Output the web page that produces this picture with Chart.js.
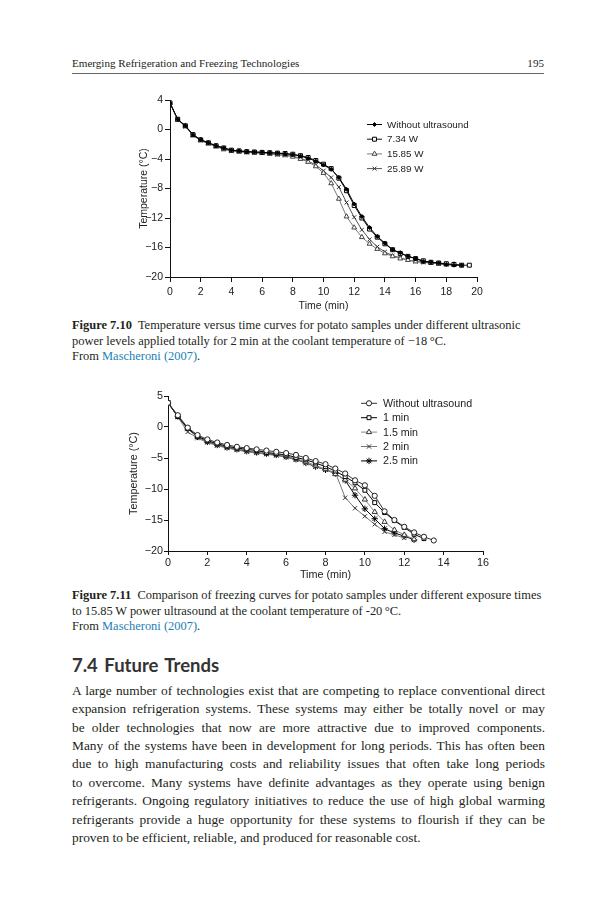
<!DOCTYPE html>
<html>
<head>
<meta charset="utf-8">
<script src="https://cdn.jsdelivr.net/npm/chart.js@4.4.1/dist/chart.umd.min.js"></script>
<style>
html, body { margin: 0; padding: 0; background: #fff; }
#page { position: relative; width: 600px; height: 900px; overflow: hidden;
        font-family: "Liberation Serif", "Times New Roman", serif; color: #231f20; }
.abs { position: absolute; }
#hdr { left: 72px; top: 56px; width: 472px; font-size: 11.1px; line-height: 14px; }
#hdr .r { float: right; }
#rule { left: 72px; top: 73px; width: 472px; height: 0; border-top: 1px solid #666; }
.cap { left: 72px; width: 500px; font-size: 12.45px; line-height: 15.3px; white-space: nowrap; }
.cap a { color: #1c7fb6; text-decoration: none; }
#h74 { left: 72px; top: 653px; font-family: Lato, "Open Sans", sans-serif;
       font-weight: bold; font-size: 18.5px; line-height: 24px; color: #333; word-spacing: 2px; }
#body { left: 72px; top: 681.8px; width: 473px; font-size: 13.4px; line-height: 18.4px; }
#body div { text-align: justify; text-align-last: justify; }
#body div.last { text-align-last: left; }
#c1 { left: 138px; top: 88px; width: 362px; height: 229px; }
#c2 { left: 128px; top: 384px; width: 375px; height: 200px; }
</style>
</head>
<body>
<div id="page">
  <div id="hdr" class="abs">Emerging Refrigeration and Freezing Technologies<span class="r">195</span></div>
  <div id="rule" class="abs"></div>

  <div id="c1" class="abs"><canvas id="chart1"></canvas></div>

  <div class="abs cap" style="top:318.3px">
    <div><b>Figure 7.10</b>&nbsp; Temperature versus time curves for potato samples under different ultrasonic</div>
    <div>power levels applied totally for 2&#8201;min at the coolant temperature of &minus;18&#8201;&deg;C.</div>
    <div>From <a>Mascheroni (2007)</a>.</div>
  </div>

  <div id="c2" class="abs"><canvas id="chart2"></canvas></div>

  <div class="abs cap" style="top:588.3px">
    <div><b>Figure 7.11</b>&nbsp; Comparison of freezing curves for potato samples under different exposure times</div>
    <div>to 15.85&#8201;W power ultrasound at the coolant temperature of -20&#8201;&deg;C.</div>
    <div>From <a>Mascheroni (2007)</a>.</div>
  </div>

  <div id="h74" class="abs">7.4 Future Trends</div>

  <div id="body" class="abs">
    <div>A large number of technologies exist that are competing to replace conventional direct</div>
    <div>expansion refrigeration systems. These systems may either be totally novel or may</div>
    <div>be older technologies that now are more attractive due to improved components.</div>
    <div>Many of the systems have been in development for long periods. This has often been</div>
    <div>due to high manufacturing costs and reliability issues that often take long periods</div>
    <div>to overcome. Many systems have definite advantages as they operate using benign</div>
    <div>refrigerants. Ongoing regulatory initiatives to reduce the use of high global warming</div>
    <div>refrigerants provide a huge opportunity for these systems to flourish if they can be</div>
    <div class="last">proven to be efficient, reliable, and produced for reasonable cost.</div>
  </div>
</div>

<script>
// ---- Figure 7.10 data (time in min, temperature in °C) ----
const time1 = [0, 0.5, 1, 1.5, 2, 2.5, 3, 3.5, 4, 4.5, 5, 5.5, 6, 6.5, 7, 7.5, 8, 8.5, 9, 9.5,
               10, 10.5, 11, 11.5, 12, 12.5, 13, 13.5, 14, 14.5, 15, 15.5, 16, 16.5, 17, 17.5, 18, 18.5, 19, 19.5];
const labels1 = ['Without ultrasound', '7.34 W', '15.85 W', '25.89 W'];
const noUS1 = [3.6, 1.4, 0.5, -0.7, -1.4, -1.8, -2.2, -2.5, -2.8, -2.9, -3.0, -3.05, -3.1, -3.15, -3.2, -3.3, -3.4, -3.6, -3.9, -4.3,
               -4.8, -5.4, -6.5, -8.1, -10.1, -11.8, -13.3, -14.5, -15.4, -16.3, -16.7, -17.2, -17.5, -17.9, -18.0, -18.1, -18.3, -18.4, -18.4];
const w734 = [3.6, 1.4, 0.5, -0.7, -1.4, -1.8, -2.2, -2.5, -2.8, -2.9, -3.0, -3.05, -3.1, -3.15, -3.2, -3.25, -3.35, -3.55, -3.8, -4.2,
              -4.7, -5.3, -6.6, -8.3, -10.3, -12.0, -13.5, -14.6, -15.5, -16.3, -16.8, -17.2, -17.5, -17.8, -18.0, -18.1, -18.2, -18.3, -18.4, -18.4];
const w1585 = [3.6, 1.3, 0.5, -0.8, -1.4, -1.9, -2.3, -2.7, -2.9, -3.0, -3.1, -3.15, -3.2, -3.3, -3.4, -3.5, -3.7, -4.0, -4.4, -5.0,
               -5.9, -7.3, -9.4, -11.8, -13.3, -14.6, -15.5, -16.2, -16.8, -17.2, -17.5, -17.7, -17.9, -18.0, -18.1, -18.2, -18.3, -18.3];
const w2589 = [3.6, 1.3, 0.4, -0.8, -1.5, -1.9, -2.3, -2.6, -2.9, -3.0, -3.1, -3.15, -3.2, -3.3, -3.4, -3.5, -3.6, -3.9, -4.3, -4.8,
               -5.6, -6.5, -7.8, -9.9, -11.9, -13.6, -14.9, -15.9, -16.6, -17.1, -17.4, -17.7, -17.9, -18.0, -18.1, -18.2, -18.3, -18.3, -18.4];

// ---- Figure 7.11 data ----
const time2 = [0, 0.5, 1, 1.5, 2, 2.5, 3, 3.5, 4, 4.5, 5, 5.5, 6, 6.5, 7, 7.5, 8, 8.5, 9, 9.5,
               10, 10.5, 11, 11.5, 12, 12.5, 13, 13.5];
const labels2 = ['Without ultrasound', '1 min', '1.5 min', '2 min', '2.5 min'];
const noUS2 = [3.9, 1.9, -0.1, -1.3, -2.0, -2.5, -2.9, -3.2, -3.4, -3.6, -3.8, -4.0, -4.2, -4.5, -5.0, -5.5, -6.0, -6.7, -7.5, -8.6,
               -9.4, -11.1, -13.6, -15.0, -16.1, -17.0, -17.7, -18.3];
const min1 = [3.9, 1.7, -0.2, -1.5, -2.2, -2.7, -3.1, -3.4, -3.6, -3.8, -4.1, -4.3, -4.5, -4.9, -5.3, -5.8, -6.4, -7.1, -8.0, -9.0,
              -10.2, -12.2, -13.8, -15.1, -16.2, -17.3, -18.0];
const min15 = [3.9, 1.7, -0.3, -1.6, -2.3, -2.8, -3.2, -3.5, -3.8, -4.0, -4.2, -4.4, -4.7, -5.1, -5.6, -6.2, -6.8, -7.6, -8.5, -9.9,
               -11.7, -13.7, -15.3, -16.6, -17.4, -18.1];
const min2 = [3.9, 1.6, -0.8, -1.8, -2.5, -3.0, -3.4, -3.7, -4.0, -4.2, -4.4, -4.6, -4.9, -5.3, -5.8, -6.4, -6.9, -7.3, -11.4, -13.1,
              -14.4, -15.7, -16.9, -17.4, -17.9];
const min25 = [3.9, 1.7, -0.3, -1.6, -2.4, -2.9, -3.3, -3.6, -3.9, -4.1, -4.3, -4.5, -4.8, -5.2, -5.8, -6.4, -6.9, -7.5, -8.6, -11.0,
               -13.2, -14.8, -16.4, -17.1, -17.6, -18.2];

Chart.defaults.font.family = '"Liberation Sans", Arial, sans-serif';
Chart.defaults.color = '#222';

const pts = (ts, vs) => vs.map((v, i) => ({ x: ts[i], y: v }));
const minus = v => String(v).replace('-', '\u2212');

// legend drawn inside the plot, like the original figure
const insideLegend = {
    id: 'insideLegend',
    afterDraw(chart, args, o) {
        const ctx = chart.ctx;
        ctx.save();
        chart.data.datasets.forEach((ds, i) => {
            const y = o.y + i * o.row;
            ctx.lineWidth = 1;
            ctx.strokeStyle = ds.borderColor;
            ctx.beginPath();
            ctx.moveTo(o.x, y);
            ctx.lineTo(o.x + o.len, y);
            ctx.stroke();
            ctx.fillStyle = ds.pointBackgroundColor;
            ctx.strokeStyle = ds.pointBorderColor;
            Chart.helpers.drawPoint(ctx, { pointStyle: ds.pointStyle, radius: ds.pointRadius, borderWidth: 1, rotation: 0 },
                o.x + o.len / 2, y);
            ctx.fillStyle = '#222';
            ctx.font = o.size + 'px "Liberation Sans", Arial, sans-serif';
            ctx.textBaseline = 'middle';
            ctx.fillText(ds.label, o.x + o.len + o.gap, y + 0.5);
        });
        ctx.restore();
    }
};

function series(label, data, line, style, radius, fill, border) {
    return {
        label: label, data: data, borderColor: line, borderWidth: 1, tension: 0,
        pointStyle: style, pointRadius: radius, pointBorderWidth: 1,
        pointBackgroundColor: fill, pointBorderColor: border
    };
}

function options(c) {
    return {
        responsive: true,
        maintainAspectRatio: false,
        animation: false,
        layout: { padding: { left: 0, top: 12, right: c.padRight, bottom: 0 } },
        plugins: { legend: { display: false }, tooltip: { enabled: false }, insideLegend: c.legend },
        scales: {
            x: {
                type: 'linear', min: 0, max: c.xMax,
                afterFit: s => { s.height = c.xHeight; },
                border: { color: '#111', width: 1 },
                grid: { drawOnChartArea: false, tickLength: c.xTick, color: '#111' },
                ticks: { stepSize: 2, padding: c.xPad, maxRotation: 0, autoSkip: false, font: { size: c.font } },
                title: { display: true, text: 'Time (min)', font: { size: c.font }, padding: { top: 0, bottom: c.titlePad } }
            },
            y: {
                min: -20, max: c.yMax,
                afterFit: s => { s.width = c.yWidth; },
                border: { color: '#111', width: 1 },
                grid: { drawOnChartArea: false, tickLength: c.yTick, color: '#111' },
                ticks: { stepSize: c.yStep, padding: c.yPad, font: { size: c.font }, callback: minus },
                title: { display: true, text: 'Temperature (\u00b0C)', font: { size: c.font }, padding: 0 }
            }
        }
    };
}

new Chart(document.getElementById('chart1'), {
    type: 'line',
    data: {
        datasets: [
            series(labels1[0], pts(time1, noUS1), '#000', 'rectRot', 2, '#000', '#000'),
            series(labels1[1], pts(time1, w734), '#111', 'rect', 2.8, '#fff', '#000'),
            series(labels1[2], pts(time1, w1585), '#7a7a7a', 'triangle', 2.8, '#fff', '#444'),
            series(labels1[3], pts(time1, w2589), '#555', 'crossRot', 2.8, '#fff', '#333')
        ]
    },
    plugins: [insideLegend],
    options: options({
        xMax: 20, yMax: 4, yStep: 4, padRight: 23, xHeight: 40, yWidth: 32,
        xTick: 5, xPad: 4, yTick: 5, yPad: 2, titlePad: 5, font: 10.5,
        legend: { x: 229, y: 36.5, row: 14.7, len: 15, gap: 5, size: 9.8 }
    })
});

new Chart(document.getElementById('chart2'), {
    type: 'line',
    data: {
        datasets: [
            series(labels2[0], pts(time2, noUS2), '#333', 'circle', 2.6, '#fff', '#222'),
            series(labels2[1], pts(time2, min1), '#000', 'rect', 2.8, '#fff', '#000'),
            series(labels2[2], pts(time2, min15), '#888', 'triangle', 3, '#fff', '#333'),
            series(labels2[3], pts(time2, min2), '#777', 'crossRot', 3, '#fff', '#333'),
            series(labels2[4], pts(time2, min25), '#000', 'star', 3.2, '#000', '#000')
        ]
    },
    plugins: [insideLegend],
    options: options({
        xMax: 16, yMax: 5, yStep: 5, padRight: 20, xHeight: 33, yWidth: 40,
        xTick: 4, xPad: 2, yTick: 4, yPad: 1, titlePad: 2.5, font: 10.8,
        legend: { x: 233, y: 19.3, row: 14.4, len: 16, gap: 6, size: 10.7 }
    })
});
</script>
</body>
</html>
